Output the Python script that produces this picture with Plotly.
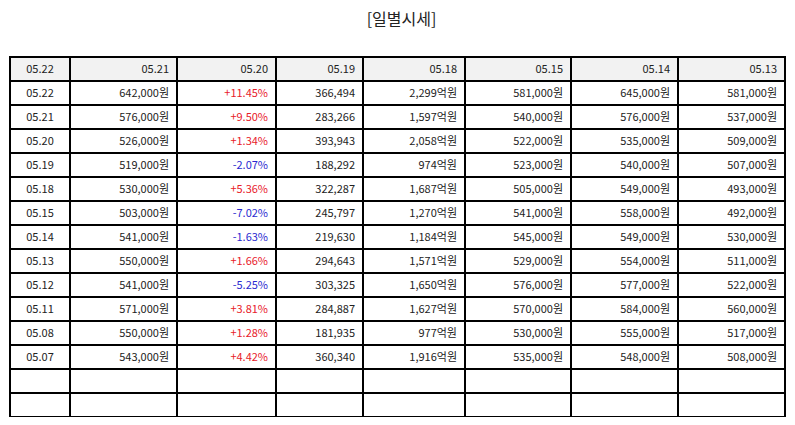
import plotly.graph_objects as go

# -----------------------------------------------------------------------
# data read from the reference table
header_labels = ['05.22', '05.21', '05.20', '05.19', '05.18', '05.15', '05.14', '05.13']

dates = ['05.22', '05.21', '05.20', '05.19', '05.18', '05.15',
         '05.14', '05.13', '05.12', '05.11', '05.08', '05.07']
close_price = [642000, 576000, 526000, 519000, 530000, 503000,
               541000, 550000, 541000, 571000, 550000, 543000]
change_pct = [11.45, 9.50, 1.34, -2.07, 5.36, -7.02,
              -1.63, 1.66, -5.25, 3.81, 1.28, 4.42]
volume = [366494, 283266, 393943, 188292, 322287, 245797,
          219630, 294643, 303325, 284887, 181935, 360340]
trade_amount = [2299, 1597, 2058, 974, 1687, 1270,
                1184, 1571, 1650, 1627, 977, 1916]     # in 억원
open_price = [581000, 540000, 522000, 523000, 505000, 541000,
              545000, 529000, 576000, 570000, 530000, 535000]
high_price = [645000, 576000, 535000, 540000, 549000, 558000,
              549000, 554000, 577000, 584000, 555000, 548000]
low_price = [581000, 537000, 509000, 507000, 493000, 492000,
             530000, 511000, 522000, 560000, 517000, 508000]

n_blank = 2     # empty rows at the bottom of the table

RED = '#e8202a'
BLUE = '#2a2ad0'
TXT = '#222222'

# ----------------------------------------------------------------------
def won(v):
    return '{:,}원'.format(v)

def pct(v):
    return '{:+.2f}%'.format(v)

blank = [''] * n_blank
columns = [
    dates + blank,
    [won(v) for v in close_price] + blank,
    [pct(v) for v in change_pct] + blank,
    ['{:,}'.format(v) for v in volume] + blank,
    ['{:,}억원'.format(v) for v in trade_amount] + blank,
    [won(v) for v in open_price] + blank,
    [won(v) for v in high_price] + blank,
    [won(v) for v in low_price] + blank,
]

pct_colors = [RED if v > 0 else BLUE for v in change_pct] + [TXT] * n_blank
font_colors = [TXT, TXT, pct_colors, TXT, TXT, TXT, TXT, TXT]

trace = go.Table(
    columnwidth=[60, 107, 99, 87, 102, 106, 107, 107],
    domain=dict(x=[0, 1], y=[0, 1]),
    header=dict(
        values=header_labels,
        align=['center'] + ['right'] * 7,
        fill_color='#f2f2f2',
        line=dict(color='black', width=1.3),
        font=dict(family='Noto Sans CJK KR', size=11, color=TXT),
        height=24,
    ),
    cells=dict(
        values=columns,
        align=['center'] + ['right'] * 7,
        fill_color='white',
        line=dict(color='black', width=1.3),
        font=dict(family='Noto Sans CJK KR', size=11, color=font_colors),
        height=24,
    ),
)

fig = go.Figure(data=[trace])
# page body has an 8px margin, so the figure is a bit smaller than the window
fig.update_layout(
    title=dict(text='[일별시세]', x=0.5, xanchor='center', y=0.973, yanchor='middle',
               font=dict(family='Noto Sans CJK KR', size=16, color='#222222')),
    width=787, height=417,
    margin=dict(l=2, r=10, t=49, b=8),
    paper_bgcolor='white',
)

fig.write_html('out.html')
